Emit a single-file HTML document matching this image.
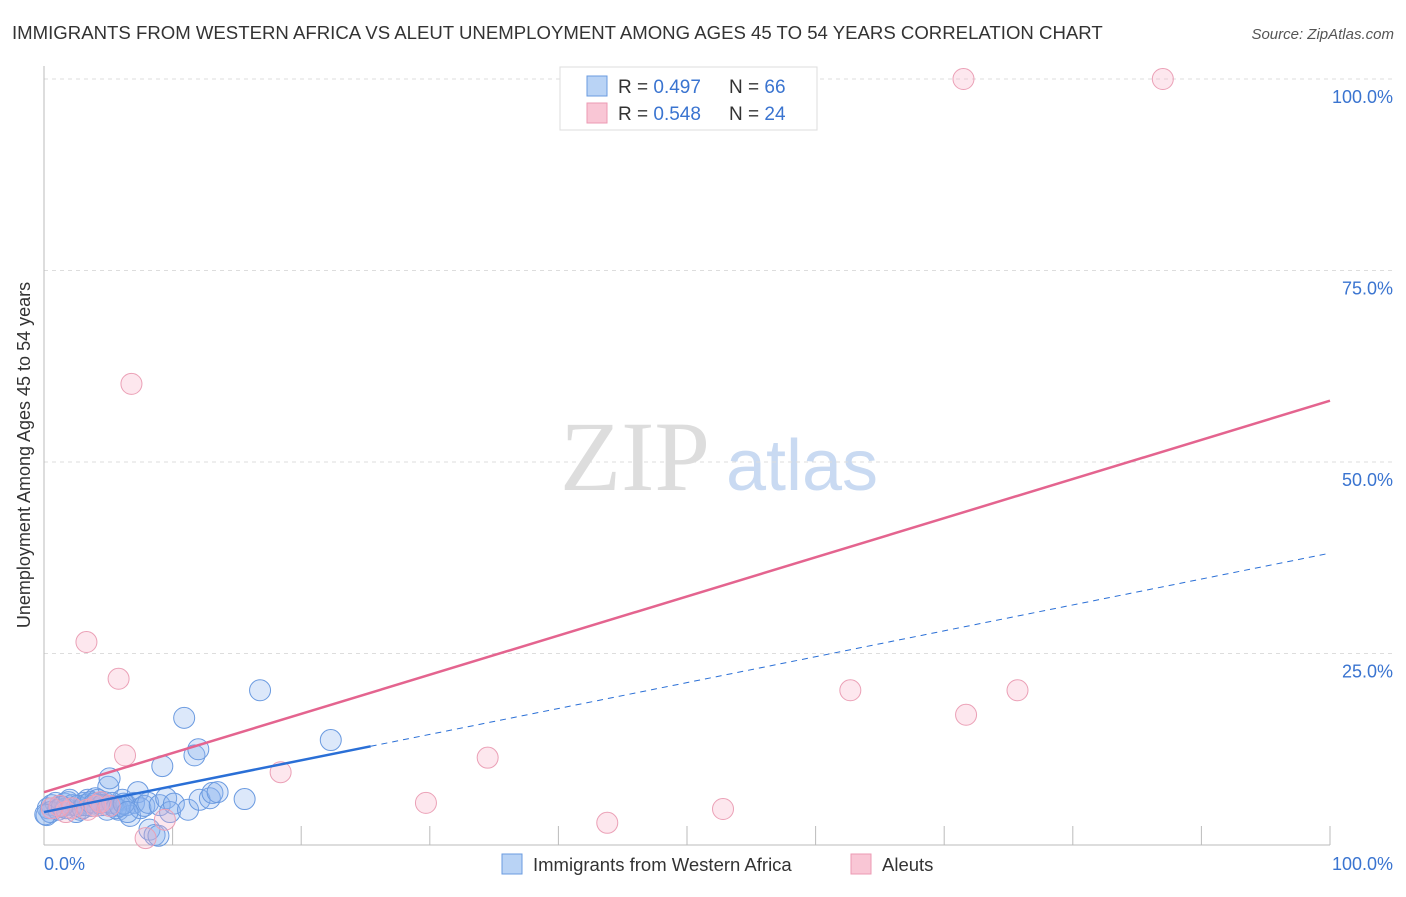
<!DOCTYPE html>
<html><head><meta charset="utf-8"><style>
body{margin:0;background:#fff;font-family:"Liberation Sans",sans-serif;}
svg text{font-family:"Liberation Sans",sans-serif;}
</style></head><body>
<svg width="1406" height="892" xmlns="http://www.w3.org/2000/svg">
<text x="12" y="39" font-size="18.6" fill="#333">IMMIGRANTS FROM WESTERN AFRICA VS ALEUT UNEMPLOYMENT AMONG AGES 45 TO 54 YEARS CORRELATION CHART</text>
<text x="1394" y="39" font-size="15" fill="#555" text-anchor="end" font-style="italic">Source: ZipAtlas.com</text>
<text x="635" y="490" font-size="100" fill="#ddd" style="font-family:'Liberation Serif',serif" text-anchor="middle">ZIP</text>
<text x="802" y="490" font-size="72" fill="#c9daf2" text-anchor="middle">atlas</text>
<g id="grid"></g>
<line x1="44" y1="66" x2="44" y2="845" stroke="#bbb"/>
<line x1="44" y1="845" x2="1330" y2="845" stroke="#bbb"/>
<text x="30" y="455" font-size="18" fill="#333" text-anchor="middle" transform="rotate(-90 30 455)">Unemployment Among Ages 45 to 54 years</text>
<text x="44" y="870" font-size="18" fill="#3a74d0">0.0%</text>
<text x="1393" y="870" font-size="18" fill="#3a74d0" text-anchor="end">100.0%</text>
<g id="lines"></g>
<g id="points"></g>
<g>
<rect x="560" y="67" width="257" height="63" fill="#fff" stroke="#ddd"/>
<rect x="587" y="76" width="20" height="20" fill="#b9d3f5" stroke="#6a9be0"/>
<rect x="587" y="103" width="20" height="20" fill="#f9c6d5" stroke="#ec9ab3"/>
<text x="618" y="93" font-size="19" fill="#333">R = <tspan fill="#3a74d0">0.497</tspan></text>
<text x="729" y="93" font-size="19" fill="#333">N = <tspan fill="#3a74d0">66</tspan></text>
<text x="618" y="120" font-size="19" fill="#333">R = <tspan fill="#3a74d0">0.548</tspan></text>
<text x="729" y="120" font-size="19" fill="#333">N = <tspan fill="#3a74d0">24</tspan></text>
</g>
<g>
<rect x="502" y="854" width="20" height="20" fill="#b9d3f5" stroke="#6a9be0"/>
<text x="533" y="871" font-size="18.5" fill="#333">Immigrants from Western Africa</text>
<rect x="851" y="854" width="20" height="20" fill="#f9c6d5" stroke="#ec9ab3"/>
<text x="882" y="871" font-size="18.5" fill="#333">Aleuts</text>
</g>
</svg>
<script>
const yTicks=[25,50,75,100];
const xTickMarks=[10,20,30,40,50,60,70,80,90,100];
const blueX=[0.3,0.6,0.9,1.2,1.6,1.9,2.2,2.5,2.8,3.1,3.4,3.7,4.0,4.4,4.7,5.0,5.1,5.4,5.8,6.1,6.4,6.7,7.0,7.3,7.5,7.8,8.1,8.2,8.6,8.9,9.0,9.2,9.5,9.8,10.1,10.9,11.2,11.7,12.0,12.1,12.9,13.1,13.5,15.6,16.8,22.3,0.2,0.5,1.1,1.7,2.0,2.6,3.0,3.2,3.6,3.9,4.2,4.5,4.9,5.3,5.6,5.9,6.2,6.5,0.1,1.4];
const blueY=[4.8,5.2,5.5,5.1,5.4,5.6,5.2,4.3,4.6,5.5,5.9,5.1,6.1,5.5,5.6,7.6,8.7,5.1,4.6,5.9,5.2,3.8,5.5,6.9,4.8,5.1,5.5,2.0,1.3,1.2,5.2,10.3,6.1,4.3,5.4,16.6,4.6,11.7,12.5,5.9,6.1,6.8,6.9,6.0,20.2,13.7,3.9,4.3,4.6,4.8,5.9,5.1,4.8,5.2,5.6,5.4,5.9,5.2,4.6,5.5,4.8,5.1,5.4,4.3,4.0,5.0];
const pinkX=[6.8,3.3,5.8,6.3,18.4,29.7,34.5,43.8,52.8,62.7,71.5,71.7,75.7,87.0,7.9,9.4,1.7,2.2,1.2,4.0,4.4,0.6,5.1,3.4];
const pinkY=[60.2,26.5,21.7,11.7,9.5,5.5,11.4,2.9,4.7,20.2,100,17.0,20.2,100,0.9,3.3,4.3,4.8,5.1,5.1,5.6,4.8,5.1,4.6];
const pinkLine=[6.9,58.0];
const blueLine=[4.3,38.1];
const blueSolidEnd=25.4;
const sx=v=>44+v*12.86, sy=v=>845-v*7.66;
const NS="http://www.w3.org/2000/svg";
function mk(tag,attrs,parent){const e=document.createElementNS(NS,tag);for(const k in attrs)e.setAttribute(k,attrs[k]);parent.appendChild(e);return e;}
const grid=document.getElementById('grid');
yTicks.forEach(t=>{
 const l=mk('line',{x1:44,x2:1393,y1:sy(t),y2:sy(t),stroke:'#ddd','stroke-dasharray':'4,4'},grid);
 
 
 const tx=mk('text',{x:1393,y:sy(t)+24,'font-size':18,fill:'#3a74d0','text-anchor':'end'},grid);
 tx.textContent=t.toFixed(1)+'%';
 
 
});
xTickMarks.forEach(t=>{
 const l=mk('line',{x1:sx(t),x2:sx(t),y1:826,y2:845,stroke:'#bbb'},grid);
 
 
});
const pts=document.getElementById('points');
function dot(x,y,fill,stroke,name){
 const c=mk('circle',{cx:sx(x),cy:sy(y),r:10.5,fill:fill,stroke:stroke,'stroke-width':1},pts);
 
 
}
blueX.forEach((x,i)=>dot(x,blueY[i],'rgba(140,180,240,0.3)','#6a9ae0','blue-point'));
pinkX.forEach((x,i)=>dot(x,pinkY[i],'rgba(248,175,198,0.3)','#eba0b6','pink-point'));
const bAt=x=>blueLine[0]+(blueLine[1]-blueLine[0])*x/100;
let l1=mk('line',{x1:sx(0),y1:sy(bAt(0)),x2:sx(blueSolidEnd),y2:sy(bAt(blueSolidEnd)),stroke:'#2a6fd6','stroke-width':2.5},pts);


let l2=mk('line',{x1:sx(blueSolidEnd),y1:sy(bAt(blueSolidEnd)),x2:sx(100),y2:sy(bAt(100)),stroke:'#2a6fd6','stroke-width':1,'stroke-dasharray':'6,5'},pts);


let l3=mk('line',{x1:sx(0),y1:sy(pinkLine[0]),x2:sx(100),y2:sy(pinkLine[1]),stroke:'#e4648f','stroke-width':2.5},pts);


</script>
</body></html>
